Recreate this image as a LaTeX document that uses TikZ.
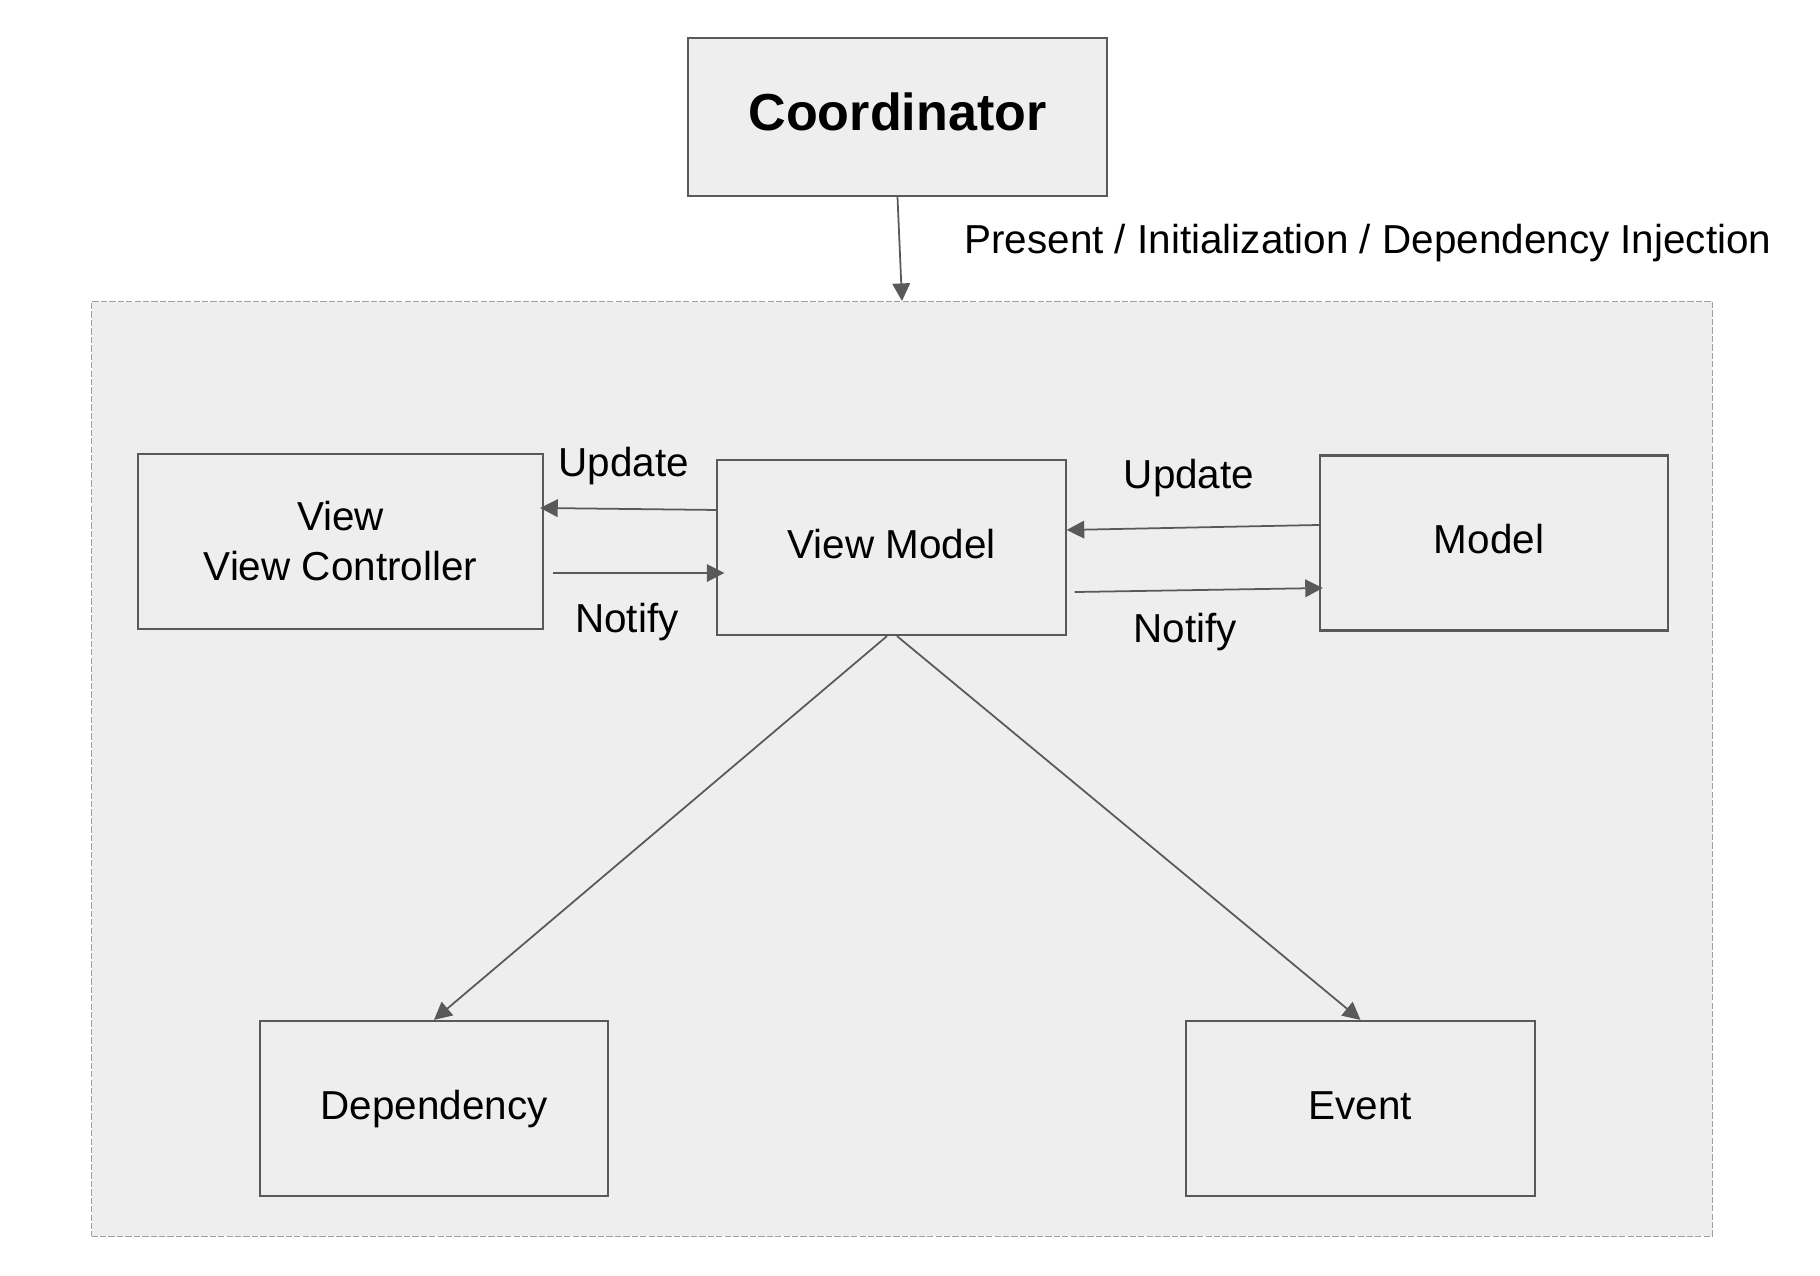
\documentclass[tikz,border=0pt]{standalone}
\usepackage{fontspec}
\setmainfont{Liberation Sans}
\usetikzlibrary{arrows.meta,positioning}
\definecolor{boxgray}{HTML}{EEEEEE}
\definecolor{linegray}{HTML}{595959}
\definecolor{dashgray}{HTML}{9E9E9E}

\begin{document}
\begin{tikzpicture}[x=0.01cm,y=-0.01cm,
  every node/.style={font=\fontsize{11.5}{14.2}\selectfont},
  box/.style={draw=linegray,fill=boxgray,line width=0.6pt,inner sep=0pt,align=center,minimum width=3.48cm,minimum height=1.75cm,text height=8.4pt,text depth=2.4pt},
  arr/.style={draw=linegray,line width=0.5pt,-{Triangle[length=5pt,width=5pt]}}]
\useasboundingbox (0,0) rectangle (1820,1276);
% dashed frame round the MVVM part
\node[draw=dashgray,fill=boxgray,dash pattern=on 1.8pt off 0.6pt,line width=0.4pt,
  minimum width=16.2cm,minimum height=9.34cm,inner sep=0pt] (container) at (902,769) {};
\node[box,minimum width=4.19cm,minimum height=1.58cm,text height=10.8pt,text depth=3.1pt,
  font=\fontsize{14.8}{18}\selectfont\bfseries] (coordinator) at (897.5,117) {Coordinator};
\node[anchor=west] (present) at (952,243) {Present / Initialization / Dependency Injection};

\node[box,minimum width=4.05cm,text height=,text depth=] (view) at (340.5,541.5) {View\\View Controller};
\node[box] (viewmodel) at (891.5,547.5) {View Model};
\node[box] (model) at (1494,543) {Model\hspace{0.1cm}};
\node[box] (dependency) at (434,1108.5) {Dependency};
\node[box] (event) at (1360.5,1108.5) {Event};

% connectors
\draw[arr] (coordinator.south) -- (container.north);
\draw[arr] ([yshift=0.375cm]viewmodel.west) -- ([xshift=-0.04cm,yshift=0.335cm]view.east);
\draw[arr] ([xshift=0.09cm,yshift=-0.315cm]view.east) -- ([xshift=0.08cm,yshift=-0.255cm]viewmodel.west);
\draw[arr] ([yshift=0.18cm]model.west) -- ([yshift=0.175cm]viewmodel.east);
\draw[arr] ([xshift=0.08cm,yshift=-0.445cm]viewmodel.east) -- ([xshift=0.04cm,yshift=-0.45cm]model.west);
\draw[arr] ([xshift=-0.045cm]viewmodel.south) -- (dependency.north);
\draw[arr] ([xshift=0.055cm]viewmodel.south) -- (event.north);

\node (updateleft) at (624,466) {Update};
\node (notifyleft) at (627,622) {Notify};
\node (updateright) at (1189,478) {Update};
\node (notifyright) at (1185,632) {Notify};
\end{tikzpicture}
\end{document}
